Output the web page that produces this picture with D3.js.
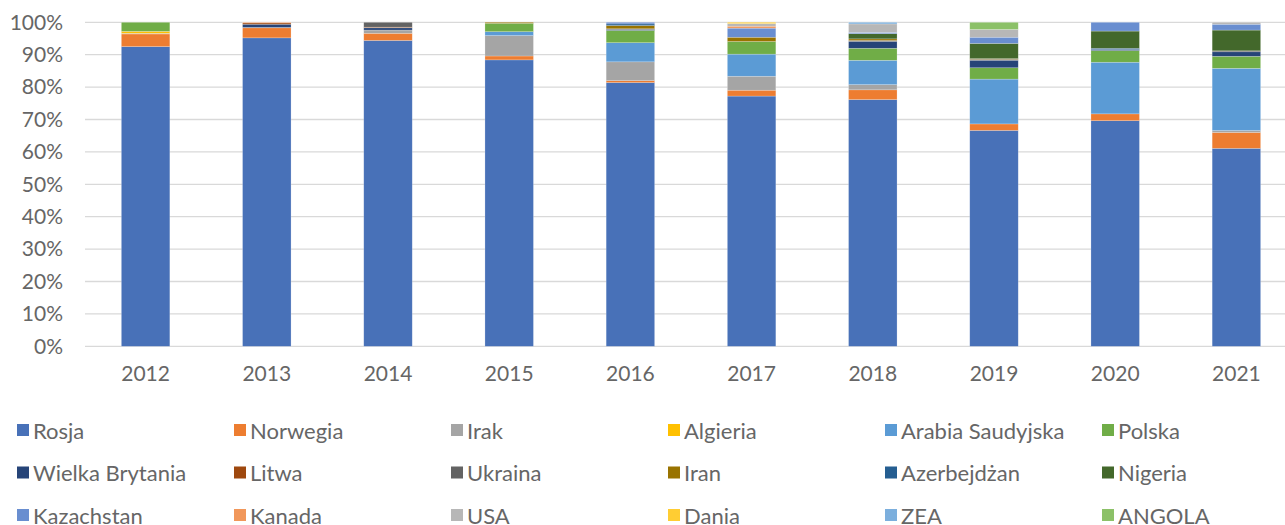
<!DOCTYPE html>
<html>
<head>
<meta charset="utf-8">
<script src="https://cdn.jsdelivr.net/npm/d3@7"></script>
<style>
  body { margin: 0; background: #fff; }
  svg { display: block; font-family: Lato, "Open Sans", sans-serif; }
</style>
</head>
<body>
<div id="chart"></div>
<script>
const years = ['2012', '2013', '2014', '2015', '2016', '2017', '2018', '2019', '2020', '2021'];
const countries = ['Rosja', 'Norwegia', 'Irak', 'Algieria', 'Arabia Saudyjska', 'Polska',
  'Wielka Brytania', 'Litwa', 'Ukraina', 'Iran', 'Azerbejdżan', 'Nigeria',
  'Kazachstan', 'Kanada', 'USA', 'Dania', 'ZEA', 'ANGOLA'];
const colors = ['#4871B8', '#ED7D31', '#A5A5A5', '#FFC000', '#5B9BD5', '#70AD47',
  '#264478', '#9E480E', '#636363', '#997300', '#255E91', '#43682B',
  '#698ED0', '#F1975A', '#B7B7B7', '#FFCD33', '#7CAFDD', '#8CC168'];

// shares in % per year, same order as years
const rosja      = [92.5, 95.2, 94.4, 88.4, 81.4, 77.0, 76.0, 66.5, 69.5, 61.1];
const norwegia   = [3.9, 3.1, 2.2, 1.2, 0.6, 1.8, 3.0, 2.0, 2.1, 4.9];
const irak       = [0.2, 0.1, 1.0, 6.3, 5.8, 4.3, 1.6, 0, 0, 0.6];
const algieria   = [0.6, 0, 0, 0, 0, 0, 0, 0, 0, 0];
const arabia     = [0, 0, 0, 1.2, 5.9, 6.8, 7.5, 13.8, 15.9, 19.2];
const polska     = [2.8, 0, 0, 2.6, 3.8, 3.9, 3.7, 3.5, 3.6, 3.7];
const brytania   = [0, 1.0, 0.7, 0, 0.3, 0, 2.1, 2.3, 0.3, 1.4];
const litwa      = [0, 0.4, 0.2, 0, 0, 0, 0, 0, 0, 0];
const ukraina    = [0, 0, 1.5, 0, 0.2, 0, 0.3, 0.3, 0, 0.3];
const iran       = [0, 0, 0, 0.3, 1.0, 1.3, 0.5, 0.2, 0, 0];
const azerbejdz  = [0, 0, 0, 0, 0.5, 0, 0, 0, 0.4, 0];
const nigeria    = [0, 0, 0, 0, 0, 0, 1.6, 4.7, 5.3, 6.4];
const kazachstan = [0, 0, 0, 0, 0.5, 2.8, 0.4, 1.9, 2.7, 1.8];
const kanada     = [0, 0.2, 0, 0, 0, 0.6, 0, 0, 0, 0];
const usa        = [0, 0, 0, 0, 0, 0.8, 2.6, 2.4, 0, 0.6];
const dania      = [0, 0, 0, 0, 0, 0.4, 0, 0, 0, 0];
const zea        = [0, 0, 0, 0, 0, 0, 0.5, 0, 0, 0];
const angola     = [0, 0, 0, 0, 0, 0, 0, 2.2, 0, 0];
const yTicks = [0, 0.1, 0.2, 0.3, 0.4, 0.5, 0.6, 0.7, 0.8, 0.9, 1];

const series = [rosja, norwegia, irak, algieria, arabia, polska, brytania, litwa, ukraina,
  iran, azerbejdz, nigeria, kazachstan, kanada, usa, dania, zea, angola];

const width = 1285, height = 525;
const textColor = '#666';

const rows = years.map((y, i) => {
  const r = { year: y };
  countries.forEach((c, j) => { r[c] = series[j][i]; });
  return r;
});

const stacked = d3.stack().keys(countries).offset(d3.stackOffsetExpand)(rows);

const x = d3.scaleBand().domain(years).range([85, 1297]).paddingInner(0.6).paddingOuter(0.3);
const y = d3.scaleLinear().domain([0, 1]).range([346.3, 22.3]);
const color = d3.scaleOrdinal().domain(countries).range(colors);

const svg = d3.select('#chart').append('svg').attr('width', width).attr('height', height);

// gridlines
svg.append('g')
  .selectAll('line')
  .data(yTicks)
  .enter()
  .append('line')
  .attr('x1', 85)
  .attr('x2', 1297)
  .attr('y1', d => y(d))
  .attr('y2', d => y(d))
  .style('stroke', '#d9d9d9')
  .style('stroke-width', 1.3);

// bars
svg.append('g')
  .selectAll('g')
  .data(stacked)
  .enter()
  .append('g')
  .style('fill', d => color(d.key))
  .selectAll('rect')
  .data(d => d)
  .enter()
  .append('rect')
  .attr('x', d => x(d.data.year))
  .attr('width', x.bandwidth())
  .attr('y', d => y(d[1]))
  .attr('height', d => Math.max(0, y(d[0]) - y(d[1])))
  .style('stroke', '#fff')
  .style('stroke-opacity', 0.35)
  .style('stroke-width', 0.6);

// y axis
const yAxis = svg.append('g')
  .attr('transform', 'translate(63,0)')
  .call(d3.axisLeft(y).tickValues(yTicks).tickFormat(d3.format('.0%')).tickSize(0).tickPadding(0));
yAxis.select('.domain').remove();
yAxis.selectAll('text').style('font-size', '21px').style('fill', textColor).style('font-family', 'Lato, sans-serif');

// x axis
const xAxis = svg.append('g')
  .attr('transform', 'translate(0,366)')
  .call(d3.axisBottom(x).tickSize(0).tickPadding(0));
xAxis.select('.domain').remove();
xAxis.selectAll('text').style('font-size', '21px').style('fill', textColor).style('font-family', 'Lato, sans-serif');

// legend, 6 per row
const legend = svg.append('g')
  .selectAll('g')
  .data(countries)
  .enter()
  .append('g')
  .attr('transform', (d, i) => `translate(${17 + (i % 6) * 217},${430 + Math.floor(i / 6) * 42.5})`);

legend.append('rect')
  .attr('x', 0)
  .attr('y', -6)
  .attr('width', 12)
  .attr('height', 12)
  .style('fill', d => color(d));

legend.append('text')
  .attr('x', 16)
  .attr('y', 0)
  .attr('dominant-baseline', 'central')
  .text(d => d)
  .style('font-size', '22px')
  .style('fill', textColor);
</script>
</body>
</html>
